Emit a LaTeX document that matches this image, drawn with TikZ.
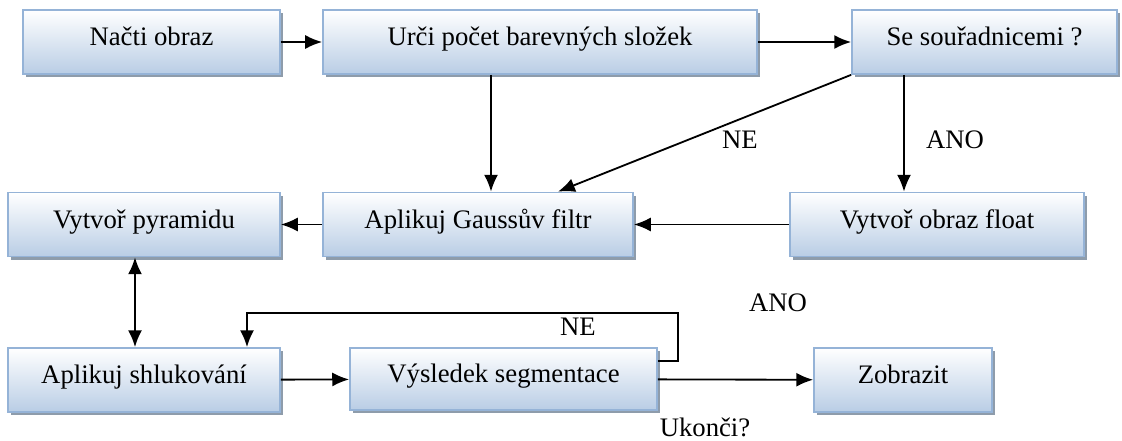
\documentclass[tikz,border=0pt]{standalone}
\usepackage{fontspec}
\setmainfont{Liberation Serif}
\usetikzlibrary{arrows.meta,shadows}
\definecolor{boxblue}{HTML}{B9CDE5}
\definecolor{boxline}{HTML}{95B3D7}
\definecolor{shadowgray}{HTML}{8E9CAB}
\tikzset{
  krok/.style={rectangle, draw=boxline, line width=1.2pt, top color=white, bottom color=boxblue,
    drop shadow={opacity=1, fill=shadowgray, shadow xshift=0.08cm, shadow yshift=-0.08cm},
    minimum height=1.6cm, inner sep=0pt, text depth=8pt, font=\fontsize{19}{22}\selectfont},
  sipka/.style={-{Latex[length=12pt,width=10pt]}, line width=1.3pt},
  popis/.style={font=\fontsize{19}{22}\selectfont}
}
\begin{document}
\begin{tikzpicture}[x=0.025cm, y=-0.025cm]
  \useasboundingbox (0,0) rectangle (1122,440);
  \node[krok, minimum width=6.425cm] (nacti) at (151.5,42) {Načti obraz};
  \node[krok, minimum width=10.85cm] (urci) at (540,42) {Urči počet barevných složek};
  \node[krok, minimum width=6.625cm] (souradnice) at (984.5,42) {Se souřadnicemi ?};
  \node[krok, minimum width=6.8cm] (pyramida) at (144,224.5) {Vytvoř pyramidu};
  \node[krok, minimum width=7.75cm] (gauss) at (478,224.5) {Aplikuj Gaussův filtr};
  \node[krok, minimum width=7.35cm] (float) at (937,224.5) {Vytvoř obraz float};
  \node[krok, minimum width=6.8cm] (shluk) at (144,380) {Aplikuj shlukování};
  \node[krok, minimum width=7.675cm, minimum height=1.55cm] (vysledek) at (503.5,379) {Výsledek segmentace};
  \node[krok, minimum width=4.45cm] (zobrazit) at (903,380) {Zobrazit};
  % pomocne body
  \coordinate (dolu1) at (491,0);
  \coordinate (dolu2) at (904,0);
  \coordinate (ne) at (558,0);
  \coordinate (obe) at (135,0);
  \coordinate (smyckaA) at (678,361);
  \coordinate (smyckaB) at (247,313);
  % spoje
  \draw[sipka] (nacti) -- (urci);
  \draw[sipka] (urci) -- (souradnice);
  \draw[sipka] (urci.south -| dolu1) -- (gauss.north -| dolu1);
  \draw[sipka] (souradnice.south west) -- (gauss.north -| ne);
  \draw[sipka] (souradnice.south -| dolu2) -- (float.north -| dolu2);
  \draw[sipka] (float) -- (gauss);
  \draw[sipka] (gauss) -- (pyramida);
  \draw[sipka, {Latex[length=12pt,width=10pt]}-{Latex[length=12pt,width=10pt]}] (pyramida.south -| obe) -- (shluk.north -| obe);
  \draw[sipka] (shluk) -- (vysledek);
  \draw[sipka] (vysledek) -- (zobrazit);
  \draw[sipka] (vysledek.east |- smyckaA) -- (smyckaA) |- (smyckaB) -- (smyckaB |- shluk.north);
  % popisky
  \node[popis] (ne1) at (740,140) {NE};
  \node[popis] (ano1) at (955,140) {ANO};
  \node[popis] (ne2) at (578,327) {NE};
  \node[popis] (ano2) at (778,303) {ANO};
  \node[popis] (ukonci) at (705,427) {Ukonči?};
\end{tikzpicture}
\end{document}
